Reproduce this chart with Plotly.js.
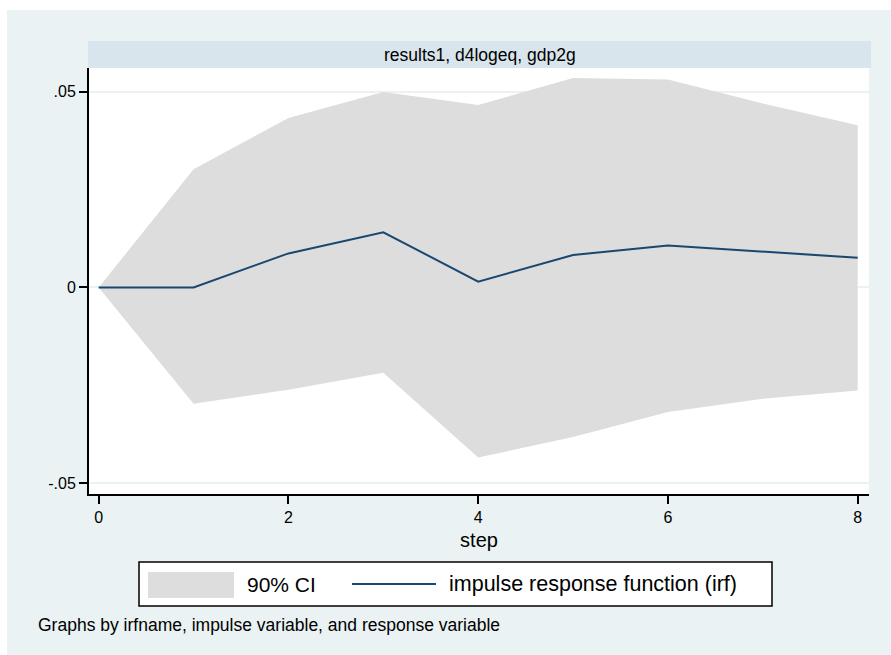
<!DOCTYPE html>
<html>
<head>
<meta charset="utf-8">
<script src="https://cdn.plot.ly/plotly-3.0.1.min.js"></script>
<style>
  html, body { margin: 0; padding: 0; background: #ffffff; width: 891px; height: 655px; overflow: hidden; }
  #chart { position: absolute; left: 7px; top: 10px; width: 884px; height: 645px; }
</style>
</head>
<body>
<div id="chart"></div>
<script>
// ---- data ----
const steps = [0, 1, 2, 3, 4, 5, 6, 7, 8];
const irf   = [0, 0, 0.0087, 0.0141, 0.0015, 0.0083, 0.0107, 0.0092, 0.0076];
const ciLow = [0, -0.0297, -0.0261, -0.0218, -0.0434, -0.0382, -0.0318, -0.0284, -0.0263];
const ciUp  = [0, 0.0302, 0.0433, 0.0499, 0.0466, 0.0535, 0.0531, 0.0470, 0.0414];
const xTicks = [0, 2, 4, 6, 8];
const yTicks = [-0.05, 0, 0.05];
const yTickText = ['-.05', '0', '.05'];
const panelTitle = 'results1, d4logeq, gdp2g';
const xTitle = 'step';
const legendCI = '90% CI';
const legendIRF = 'impulse response function (irf)';
const note = 'Graphs by irfname, impulse variable, and response variable';

// ---- styling ----
const FONT = 'Liberation Sans, Arial, sans-serif';
const BG = '#EAF2F3';
const STRIP = '#D9E5EC';
const BAND = 'rgb(221,221,221)';
const NAVY = '#1A476F';

// page-pixel -> paper helpers (plot area on page: x 89..869, y 68..494)
const PL = 89, PR = 869, PT = 68, PB = 494;
const fx = p => (p - PL) / (PR - PL);
const fy = p => (PB - p) / (PB - PT);

const traces = [
  { x: steps, y: ciLow, type: 'scatter', mode: 'lines', line: { width: 0, color: BAND },
    hoverinfo: 'skip', showlegend: false },
  { x: steps, y: ciUp, type: 'scatter', mode: 'lines', fill: 'tonexty', fillcolor: BAND,
    line: { width: 0, color: BAND }, name: legendCI, showlegend: false },
  { x: steps, y: irf, type: 'scatter', mode: 'lines', line: { color: NAVY, width: 2 },
    name: legendIRF, showlegend: false }
];

const layout = {
  width: 884, height: 645,
  margin: { l: PL - 7, r: 884 - (PR - 7), t: PT - 10, b: 645 - (PB - 10) },
  paper_bgcolor: BG,
  plot_bgcolor: '#ffffff',
  font: { family: FONT, color: '#000000' },
  showlegend: false,
  xaxis: {
    range: [-0.102, 8.119],
    tickvals: xTicks, ticktext: xTicks.map(String),
    ticks: 'outside', ticklen: 8, tickwidth: 2, tickcolor: '#000',
    showline: true, linecolor: '#000', linewidth: 2,
    showgrid: false, zeroline: false,
    tickfont: { size: 16, family: FONT },
    title: { text: xTitle, font: { size: 20, family: FONT }, standoff: 8 }
  },
  yaxis: {
    range: [-0.05273, 0.05604],
    tickvals: yTicks, ticktext: yTickText,
    ticks: 'outside', ticklen: 8, tickwidth: 2, tickcolor: '#000',
    showline: true, linecolor: '#000', linewidth: 2,
    showgrid: true, gridcolor: BG, gridwidth: 2, zeroline: false,
    tickfont: { size: 16, family: FONT }
  },
  shapes: [
    // panel title strip
    { type: 'rect', xref: 'paper', yref: 'paper', x0: fx(88), x1: fx(871), y0: fy(68), y1: fy(41),
      fillcolor: STRIP, line: { width: 0 }, layer: 'below' },
    // legend box
    { type: 'rect', xref: 'paper', yref: 'paper', x0: fx(139), x1: fx(772), y0: fy(606), y1: fy(562),
      fillcolor: '#ffffff', line: { color: '#000', width: 1.5 } },
    // CI swatch
    { type: 'rect', xref: 'paper', yref: 'paper', x0: fx(148), x1: fx(234), y0: fy(598), y1: fy(572),
      fillcolor: BAND, line: { width: 0 } },
    // IRF swatch
    { type: 'line', xref: 'paper', yref: 'paper', x0: fx(352), x1: fx(436), y0: fy(584), y1: fy(584),
      line: { color: NAVY, width: 2 } }
  ],
  annotations: [
    { text: panelTitle, xref: 'paper', yref: 'paper', x: fx(479.5), y: fy(55),
      xanchor: 'center', yanchor: 'middle', showarrow: false, font: { size: 17.5, family: FONT } },
    { text: legendCI, xref: 'paper', yref: 'paper', x: fx(245), y: fy(584),
      xanchor: 'left', yanchor: 'middle', showarrow: false, font: { size: 21, family: FONT } },
    { text: legendIRF, xref: 'paper', yref: 'paper', x: fx(447), y: fy(584),
      xanchor: 'left', yanchor: 'middle', showarrow: false, font: { size: 21.5, family: FONT } },
    { text: note, xref: 'paper', yref: 'paper', x: fx(36), y: fy(625),
      xanchor: 'left', yanchor: 'middle', showarrow: false, font: { size: 17.5, family: FONT } }
  ]
};

Plotly.newPlot('chart', traces, layout, { displayModeBar: false, staticPlot: true });
</script>
</body>
</html>
